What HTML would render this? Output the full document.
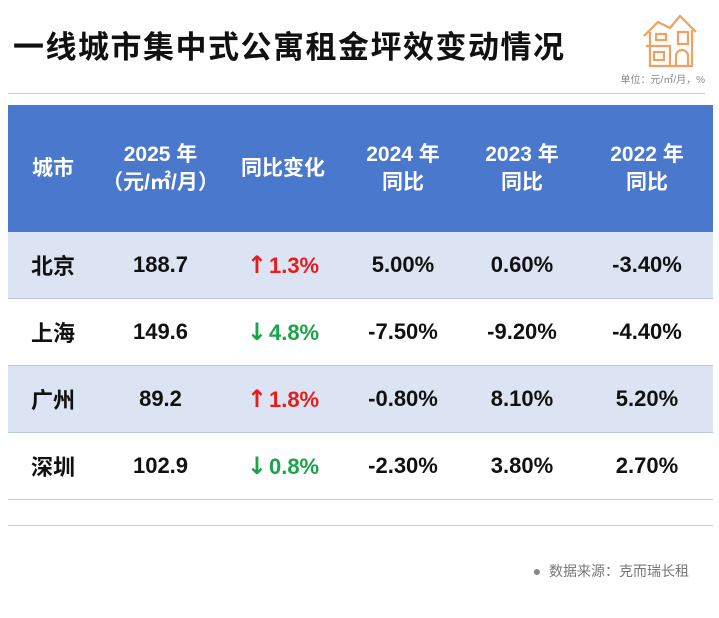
<!DOCTYPE html>
<html><head><meta charset="utf-8"><style>
body{margin:0;width:719px;height:618px;background:#fff;position:relative;overflow:hidden;font-family:"Liberation Sans","Noto Sans CJK SC",sans-serif}
.title{position:absolute;left:13px;top:28px;font-size:31px;font-weight:bold;color:#111;letter-spacing:1.5px;line-height:40px}
.unit{position:absolute;right:14px;top:71px;font-size:10px;color:#888}
.hr{position:absolute;left:8px;width:697px;height:1px;background:#ccc}
table{position:absolute;left:8px;top:105px;width:705px;border-collapse:collapse;table-layout:fixed}
th{background:#4a78cc;color:#fff;font-size:21px;font-weight:bold;height:127px;line-height:28px;padding:0}
td{height:66px;text-align:center;font-size:22px;font-weight:bold;color:#111;border-bottom:1px solid #b9c6e4;padding:0}
tr.a td{background:#dce3f3}
.up{color:#e51c1c}.dn{color:#1aa34a}
.ar{font-family:"DejaVu Sans",sans-serif;font-size:24px;margin-right:2px}
.src{position:absolute;right:30px;top:561px;font-size:14px;color:#777}
</style></head><body>
<div class="title">一线城市集中式公寓租金坪效变动情况</div>
<svg style="position:absolute;left:640px;top:12px" width="60" height="58" viewBox="0 0 60 58" fill="none" stroke="#f0a060" stroke-width="2.2">
<path d="M4 24 L18 10 L30 16 L40 4 L56 20"/><path d="M10 20 V54 H52 V18"/><path d="M6 34 H30 V54"/><rect x="14" y="40" width="10" height="8"/><path d="M36 54 V44 a6 6 0 0 1 12 0 V54"/><rect x="38" y="20" width="10" height="12"/><rect x="16" y="22" width="10" height="6"/></svg>
<div class="unit">单位：元/㎡/月，%</div>
<div class="hr" style="top:93px"></div>
<table>
<colgroup><col style="width:90px"><col style="width:125px"><col style="width:120px"><col style="width:120px"><col style="width:118px"><col style="width:132px"></colgroup>
<tr><th>城市</th><th>2025 年<br>（元/㎡/月）</th><th>同比变化</th><th>2024 年<br>同比</th><th>2023 年<br>同比</th><th>2022 年<br>同比</th></tr>
<tr class="a"><td>北京</td><td>188.7</td><td class="up"><span class="ar">↑</span>1.3%</td><td>5.00%</td><td>0.60%</td><td>-3.40%</td></tr>
<tr><td>上海</td><td>149.6</td><td class="dn"><span class="ar">↓</span>4.8%</td><td>-7.50%</td><td>-9.20%</td><td>-4.40%</td></tr>
<tr class="a"><td>广州</td><td>89.2</td><td class="up"><span class="ar">↑</span>1.8%</td><td>-0.80%</td><td>8.10%</td><td>5.20%</td></tr>
<tr><td>深圳</td><td>102.9</td><td class="dn"><span class="ar">↓</span>0.8%</td><td>-2.30%</td><td>3.80%</td><td>2.70%</td></tr>
</table>
<div class="hr" style="top:525px;left:8px;width:705px"></div>
<div class="src"><span style="color:#888">●</span>&nbsp; 数据来源：克而瑞长租</div>
</body></html>
